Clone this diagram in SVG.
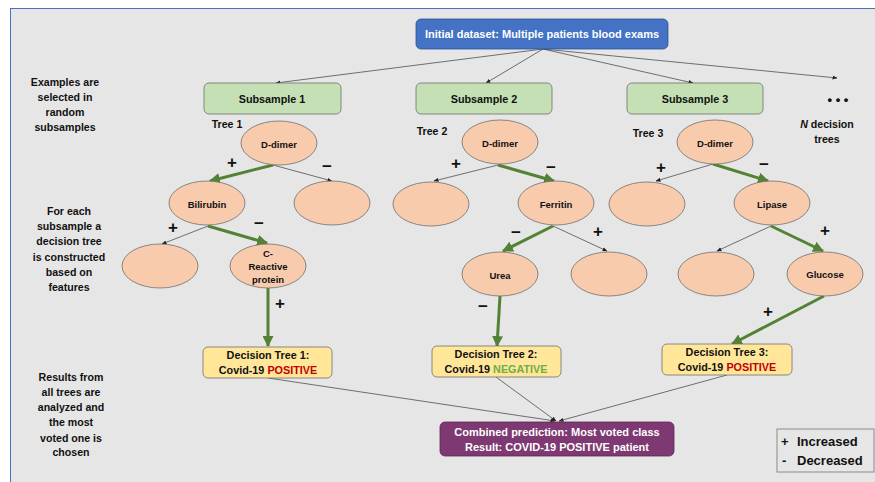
<svg xmlns="http://www.w3.org/2000/svg" width="875" height="482" viewBox="0 0 875 482">
<defs>
<style>
text{font-family:"Liberation Sans",Arial,sans-serif;font-weight:bold;text-anchor:middle;dominant-baseline:central}
.t{font-size:10.8px;fill:#111}
.n{font-size:9.5px;fill:#111}
.w{font-size:11px;fill:#fff}
.e{fill:#f8cbad;stroke:#6f6f6f;stroke-width:0.8}
.g{fill:#c5e0b4;stroke:#6f6f6f;stroke-width:0.8}
.y{fill:#ffe699;stroke:#6f6f6f;stroke-width:0.8}
.thin{stroke:#3a3a3a;stroke-width:0.7;fill:none;marker-end:url(#ah)}
.thick{stroke:#548235;stroke-width:3;fill:none;marker-end:url(#gh)}
.s{font-size:17px;fill:#111}
.l{font-size:10.6px;fill:#111}
.lg{font-size:13px;fill:#111;text-anchor:start}
</style>
<marker id="ah" viewBox="0 0 10 10" refX="9" refY="5" markerWidth="5" markerHeight="5" orient="auto" markerUnits="userSpaceOnUse"><path d="M0,1 L10,5 L0,9 z" fill="#222"/></marker>
<marker id="gh" viewBox="0 0 10 10" refX="9" refY="5" markerWidth="11" markerHeight="11" orient="auto" markerUnits="userSpaceOnUse"><path d="M0,0 L10,5 L0,10 z" fill="#548235"/></marker>
</defs>
<rect x="0" y="0" width="875" height="482" fill="#fff"/>
<rect x="10.5" y="8.5" width="870" height="480" fill="#e6e6e6" stroke="#4472c4" stroke-width="1"/>

<g id="labels">
<text class="l" x="65" y="82">Examples are</text>
<text class="l" x="65" y="97">selected in</text>
<text class="l" x="65" y="112">random</text>
<text class="l" x="65" y="127">subsamples</text>
<text class="l" x="69" y="211">For each</text>
<text class="l" x="69" y="226">subsample a</text>
<text class="l" x="69" y="241">decision tree</text>
<text class="l" x="69" y="257">is constructed</text>
<text class="l" x="69" y="272">based on</text>
<text class="l" x="69" y="287">features</text>
<text class="l" x="71" y="377">Results from</text>
<text class="l" x="71" y="392">all trees are</text>
<text class="l" x="71" y="407">analyzed and</text>
<text class="l" x="71" y="422">the most</text>
<text class="l" x="71" y="438">voted one is</text>
<text class="l" x="71" y="452">chosen</text>
<text class="l" x="227" y="124">Tree 1</text>
<text class="l" x="432" y="131">Tree 2</text>
<text class="l" x="648" y="133">Tree 3</text>
<text class="l" x="838" y="99" style="font-size:13px">• • •</text>
<text class="l" x="827" y="124"><tspan font-style="italic">N</tspan> decision</text>
<text class="l" x="827" y="139">trees</text>
</g>

<g id="connectors">
<path class="thin" d="M543,49 L276,83"/>
<path class="thin" d="M543,49 L486,83"/>
<path class="thin" d="M543,49 L693,83"/>
<path class="thin" d="M543,49 L837,78"/>
<path class="thick" d="M273,165 L210,181"/>
<path class="thin" d="M273,165 L332,181"/>
<path class="thin" d="M208,226 L162,244"/>
<path class="thick" d="M208,226 L267,243"/>
<path class="thick" d="M268,288 L268,346"/>
<path class="thin" d="M498,165 L434,181"/>
<path class="thick" d="M498,165 L554,181"/>
<path class="thick" d="M553,226 L503,251"/>
<path class="thin" d="M553,226 L607,251"/>
<path class="thick" d="M500,296 L497,346"/>
<path class="thin" d="M713,164 L656,181"/>
<path class="thick" d="M713,164 L768,181"/>
<path class="thin" d="M771,226 L717,251"/>
<path class="thick" d="M771,226 L823,251"/>
<path class="thick" d="M824,296 L732,344"/>
<path class="thin" d="M268,378 L555,421"/>
<path class="thin" d="M496,377 L556,421"/>
<path class="thin" d="M727,375 L559,421"/>
</g>

<g id="signs">
<text class="s" x="232" y="162">+</text>
<text class="s" x="327" y="166">−</text>
<text class="s" x="173" y="227">+</text>
<text class="s" x="259" y="223">−</text>
<text class="s" x="280" y="303">+</text>
<text class="s" x="456" y="163">+</text>
<text class="s" x="551" y="167">−</text>
<text class="s" x="516" y="232">−</text>
<text class="s" x="598" y="231">+</text>
<text class="s" x="483" y="306">−</text>
<text class="s" x="661" y="167">+</text>
<text class="s" x="764" y="164">−</text>
<text class="s" x="825" y="230">+</text>
<text class="s" x="768" y="311">+</text>
</g>

<g id="initial"><rect x="416" y="19" width="252" height="30" rx="5" fill="#4472c4" stroke="#2f528f" stroke-width="0.8"/><text class="w" x="542" y="34">Initial dataset: Multiple patients blood exams</text></g>
<g id="sub1"><rect class="g" x="204" y="83" width="137" height="31" rx="5"/><text class="t" x="272" y="99">Subsample 1</text></g>
<g id="sub2"><rect class="g" x="416" y="83" width="136" height="31" rx="5"/><text class="t" x="484" y="99">Subsample 2</text></g>
<g id="sub3"><rect class="g" x="627" y="83" width="136" height="31" rx="5"/><text class="t" x="695" y="99">Subsample 3</text></g>

<g id="t1-ddimer"><ellipse class="e" cx="279" cy="143" rx="38" ry="22"/><text class="n" x="279" y="144">D-dimer</text></g>
<g id="t1-bilirubin"><ellipse class="e" cx="207" cy="203" rx="38" ry="22"/><text class="n" x="207" y="204">Bilirubin</text></g>
<g id="t1-empty1"><ellipse class="e" cx="332" cy="203" rx="38" ry="22"/></g>
<g id="t1-empty2"><ellipse class="e" cx="160" cy="266" rx="38" ry="22"/></g>
<g id="t1-crp"><ellipse class="e" cx="268" cy="266" rx="38" ry="22"/><text class="n" x="268" y="253">C-</text><text class="n" x="268" y="266">Reactive</text><text class="n" x="268" y="279">protein</text></g>

<g id="t2-ddimer"><ellipse class="e" cx="500" cy="142" rx="38" ry="22"/><text class="n" x="500" y="143">D-dimer</text></g>
<g id="t2-empty1"><ellipse class="e" cx="431" cy="204" rx="38" ry="22"/></g>
<g id="t2-ferritin"><ellipse class="e" cx="556" cy="203" rx="38" ry="22"/><text class="n" x="556" y="204">Ferritin</text></g>
<g id="t2-urea"><ellipse class="e" cx="500" cy="274" rx="38" ry="22"/><text class="n" x="500" y="275">Urea</text></g>
<g id="t2-empty2"><ellipse class="e" cx="609" cy="274" rx="38" ry="22"/></g>

<g id="t3-ddimer"><ellipse class="e" cx="715" cy="142" rx="38" ry="22"/><text class="n" x="715" y="143">D-dimer</text></g>
<g id="t3-empty1"><ellipse class="e" cx="647" cy="204" rx="38" ry="22"/></g>
<g id="t3-lipase"><ellipse class="e" cx="772" cy="203" rx="38" ry="22"/><text class="n" x="772" y="204">Lipase</text></g>
<g id="t3-empty2"><ellipse class="e" cx="716" cy="274" rx="38" ry="22"/></g>
<g id="t3-glucose"><ellipse class="e" cx="825" cy="274" rx="38" ry="22"/><text class="n" x="825" y="274">Glucose</text></g>

<g id="dt1"><rect class="y" x="203" y="347" width="129" height="31" rx="5"/><text class="t" x="268" y="355">Decision Tree 1:</text><text class="t" x="268" y="370">Covid-19 <tspan fill="#c00000">POSITIVE</tspan></text></g>
<g id="dt2"><rect class="y" x="432" y="346" width="129" height="31" rx="5"/><text class="t" x="496" y="354">Decision Tree 2:</text><text class="t" x="496" y="369">Covid-19 <tspan fill="#70ad47">NEGATIVE</tspan></text></g>
<g id="dt3"><rect class="y" x="662" y="344" width="130" height="31" rx="5"/><text class="t" x="727" y="352">Decision Tree 3:</text><text class="t" x="727" y="367">Covid-19 <tspan fill="#c00000">POSITIVE</tspan></text></g>

<g id="combined"><rect x="440" y="422" width="234" height="34" rx="5" fill="#7e3872" stroke="#5a2752" stroke-width="0.8"/><text class="w" x="557" y="432">Combined prediction: Most voted class</text><text class="w" x="557" y="447">Result: COVID-19 POSITIVE patient</text></g>

<g id="legend"><rect x="777" y="429" width="97" height="43" fill="#e6e6e6" stroke="#8a8a8a" stroke-width="1"/><text class="lg" x="781" y="441">+<tspan x="797">Increased</tspan></text><text class="lg" x="782" y="460">-<tspan x="797">Decreased</tspan></text></g>
</svg>
